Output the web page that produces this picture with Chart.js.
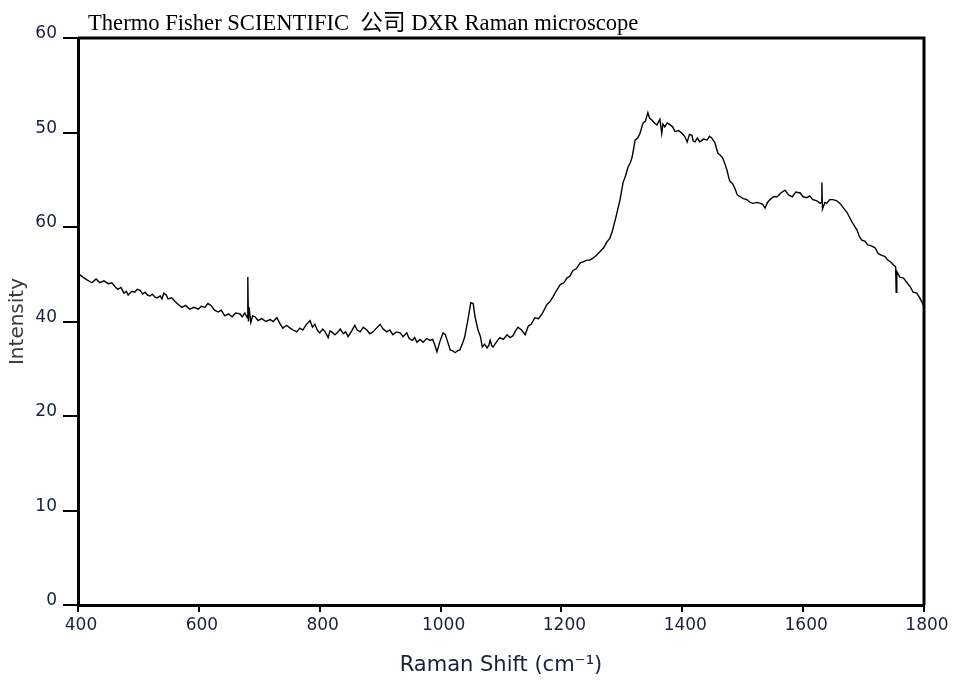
<!DOCTYPE html>
<html>
<head>
<meta charset="utf-8">
<title>Raman spectrum</title>
<script src="https://cdn.jsdelivr.net/npm/chart.js@4"></script>
<style>
  html, body { margin: 0; padding: 0; background: #fff; }
  #wrap { position: relative; width: 955px; height: 683px; }
</style>
</head>
<body>
<div id="wrap"><canvas id="raman_graph"></canvas></div>
<script>
const instrument = "Thermo Fisher SCIENTIFIC  公司 DXR Raman microscope";

// Raman shift (cm-1)
const shifts = [
  400, 404, 408, 415, 423, 430, 436, 443, 450, 456, 461, 466, 471, 476, 480, 483,
  489, 494, 498, 503, 507, 511, 515, 519, 523, 527, 531, 536, 539, 542, 546, 549,
  555, 561, 566, 572, 578, 585, 592, 599, 604, 610, 615, 620, 626, 632, 637, 643,
  649, 655, 661, 668, 672, 676, 680, 681, 682, 683, 686, 689, 693, 698, 704, 711,
  718, 723, 729, 734, 739, 745, 751, 756, 762, 767, 772, 778, 784, 788, 792, 796,
  800, 805, 809, 814, 817, 820, 825, 829, 834, 839, 843, 847, 853, 858, 862, 867,
  872, 878, 883, 888, 894, 900, 905, 911, 916, 921, 927, 933, 938, 944, 948, 953,
  957, 961, 966, 971, 977, 983, 987, 990, 994, 999, 1004, 1008, 1011, 1016, 1020, 1024,
  1028, 1032, 1037, 1040, 1045, 1050, 1054, 1057, 1062, 1066, 1069, 1073, 1077, 1080, 1082, 1085,
  1087, 1092, 1098, 1104, 1110, 1115, 1120, 1124, 1128, 1134, 1140, 1145, 1150, 1156, 1162, 1168,
  1172, 1176, 1181, 1186, 1192, 1198, 1204, 1209, 1214, 1219, 1225, 1231, 1236, 1242, 1247, 1252,
  1258, 1264, 1270, 1275, 1280, 1284, 1290, 1297, 1302, 1306, 1310, 1314, 1317, 1322, 1326, 1330,
  1335, 1339, 1343, 1346, 1350, 1354, 1358, 1363, 1366, 1368, 1371, 1375, 1380, 1384, 1388, 1394,
  1400, 1404, 1408, 1412, 1416, 1418, 1421, 1425, 1429, 1435, 1441, 1445, 1449, 1454, 1459, 1463,
  1467, 1471, 1474, 1477, 1479, 1483, 1487, 1491, 1496, 1501, 1507, 1512, 1517, 1523, 1529, 1533,
  1537, 1541, 1545, 1551, 1557, 1563, 1570, 1576, 1582, 1588, 1595, 1600, 1606, 1611, 1616, 1622,
  1628, 1630, 1631, 1632, 1636, 1639, 1644, 1649, 1655, 1661, 1667, 1673, 1677, 1681, 1685, 1689,
  1693, 1697, 1702, 1707, 1713, 1719, 1724, 1730, 1735, 1740, 1745, 1749, 1753, 1754, 1755, 1760,
  1766, 1772, 1777, 1782, 1788, 1793, 1797, 1800
];

// intensity at each shift
const intensity = [
  34.7, 34.9, 34.7, 34.4, 34.1, 34.5, 34.1, 34.3, 34.0, 34.1, 33.7, 33.4, 33.6, 33.0, 33.2, 32.8,
  33.2, 33.1, 33.4, 33.3, 32.9, 33.1, 32.8, 32.7, 32.9, 32.6, 32.5, 32.7, 32.4, 33.0, 32.8, 32.4,
  32.5, 32.1, 31.8, 31.5, 31.7, 31.3, 31.5, 31.3, 31.6, 31.5, 31.9, 31.7, 31.2, 31.0, 31.2, 30.6,
  30.8, 30.5, 30.9, 30.8, 30.5, 30.9, 30.4, 34.7, 30.0, 31.5, 29.9, 30.6, 30.5, 30.1, 30.3, 30.0,
  30.2, 30.0, 30.4, 29.8, 29.3, 29.6, 29.3, 29.1, 28.9, 29.3, 29.1, 29.7, 30.1, 29.4, 29.7, 29.1,
  28.8, 29.2, 28.9, 28.3, 29.0, 28.9, 28.6, 28.8, 29.2, 28.7, 28.9, 28.4, 29.0, 29.6, 29.1, 28.9,
  29.4, 29.1, 28.7, 28.9, 29.3, 29.7, 29.2, 28.9, 29.1, 28.6, 28.9, 28.8, 28.4, 28.8, 28.2, 28.0,
  28.3, 27.8, 28.1, 27.8, 28.2, 28.0, 28.1, 27.6, 26.8, 27.9, 28.8, 28.6, 28.0, 27.0, 26.9, 26.7,
  26.9, 27.0, 27.8, 28.4, 30.1, 32.0, 31.9, 30.5, 29.1, 28.4, 27.3, 27.6, 27.2, 27.5, 28.0, 27.4,
  27.3, 27.8, 28.3, 28.1, 28.6, 28.3, 28.5, 29.0, 29.4, 29.1, 28.6, 29.5, 29.7, 30.4, 30.3, 30.8,
  31.3, 31.8, 32.1, 32.6, 33.3, 33.9, 34.1, 34.6, 34.8, 35.4, 35.6, 36.2, 36.3, 36.5, 36.5, 36.7,
  37.0, 37.4, 37.8, 38.4, 38.8, 39.5, 41.0, 42.9, 44.7, 45.4, 46.3, 46.8, 47.4, 49.2, 49.4, 49.9,
  51.0, 51.2, 52.1, 51.5, 51.3, 51.0, 50.8, 51.4, 49.9, 50.9, 50.6, 51.0, 50.8, 50.6, 50.1, 50.2,
  49.9, 49.6, 49.0, 49.8, 49.7, 49.1, 49.0, 49.4, 49.0, 49.3, 49.2, 49.6, 49.4, 48.9, 47.8, 47.6,
  47.3, 46.6, 46.0, 45.2, 44.8, 44.6, 44.1, 43.4, 43.2, 43.0, 42.9, 42.6, 42.5, 42.6, 42.5, 42.4,
  42.0, 42.6, 42.9, 43.2, 43.2, 43.6, 43.9, 43.4, 43.2, 43.7, 43.6, 43.2, 43.1, 43.3, 42.9, 42.8,
  42.5, 42.6, 44.7, 41.9, 42.6, 42.5, 42.9, 42.9, 42.8, 42.5, 42.0, 41.5, 41.0, 40.5, 40.1, 39.7,
  39.0, 38.6, 38.5, 38.1, 38.0, 37.8, 37.2, 37.0, 36.9, 36.5, 36.3, 36.0, 35.8, 33.1, 35.3, 34.7,
  34.6, 34.1, 33.7, 33.1, 33.0, 32.5, 32.0, 31.6
];

// axis tick labels as printed on the original plot
const yTickLabels = ["0", "10", "20", "40", "60", "50", "60"];
const xTicks = [400, 600, 800, 1000, 1200, 1400, 1600, 1800];

const fontFamily = "'DejaVu Sans', sans-serif";
const inkColor = "#17203e";

// closed frame around the plot area plus the header line
const framePlugin = {
  id: "frame",
  afterDraw(chart) {
    const { ctx, chartArea: a } = chart;
    ctx.save();
    ctx.strokeStyle = "#000";
    ctx.lineWidth = 3;
    ctx.beginPath();
    ctx.moveTo(a.left, a.top);
    ctx.lineTo(a.right, a.top);
    ctx.lineTo(a.right, a.bottom);
    ctx.stroke();
    ctx.fillStyle = "#000";
    ctx.font = "22.6px 'Liberation Serif', 'Noto Sans CJK SC', serif";
    ctx.textBaseline = "alphabetic";
    ctx.fillText(instrument, a.left + 10, 30);
    ctx.restore();
  },
};

const ctx = document.getElementById("raman_graph");

new Chart(ctx, {
  type: "line",
  data: {
    datasets: [
      {
        label: "Intensity",
        data: shifts.map((s, i) => ({ x: s, y: intensity[i] })),
        borderColor: "#000",
        borderWidth: 1.4,
        pointRadius: 0,
        tension: 0,
        fill: false,
      },
    ],
  },
  options: {
    responsive: true,
    maintainAspectRatio: false,
    animation: false,
    layout: {
      padding: { top: 38, right: 31, left: 0, bottom: 0 },
    },
    scales: {
      x: {
        type: "linear",
        min: 400,
        max: 1800,
        afterFit(scale) {
          scale.height = 78;
        },
        afterBuildTicks(scale) {
          scale.ticks = xTicks.map((v) => ({ value: v }));
        },
        border: { color: "#000", width: 3 },
        grid: {
          drawOnChartArea: false,
          drawTicks: true,
          tickLength: 7,
          color: "#000",
          lineWidth: 2,
        },
        ticks: {
          color: inkColor,
          font: { family: fontFamily, size: 17 },
          padding: 3,
          labelOffset: 3,
          maxRotation: 0,
          callback: (value) => String(value),
        },
        title: {
          display: true,
          text: "Raman Shift (cm⁻¹)",
          color: inkColor,
          font: { family: fontFamily, size: 21 },
          padding: { top: 0, bottom: 5 },
        },
      },
      y: {
        min: 0,
        max: 60,
        afterFit(scale) {
          scale.width = 78;
        },
        border: { color: "#000", width: 3 },
        grid: {
          drawOnChartArea: false,
          drawTicks: true,
          tickLength: 15,
          color: "#000",
          lineWidth: 2,
        },
        ticks: {
          stepSize: 10,
          color: inkColor,
          font: { family: fontFamily, size: 17 },
          padding: 6,
          labelOffset: -4,
          callback: (value, index) => yTickLabels[index],
        },
        title: {
          display: true,
          text: "Intensity",
          color: "#3a3a3a",
          font: { family: fontFamily, size: 20 },
          padding: { top: 6, bottom: 0 },
        },
      },
    },
    plugins: {
      legend: { display: false },
      tooltip: { enabled: false },
    },
  },
  plugins: [framePlugin],
});
</script>
</body>
</html>
